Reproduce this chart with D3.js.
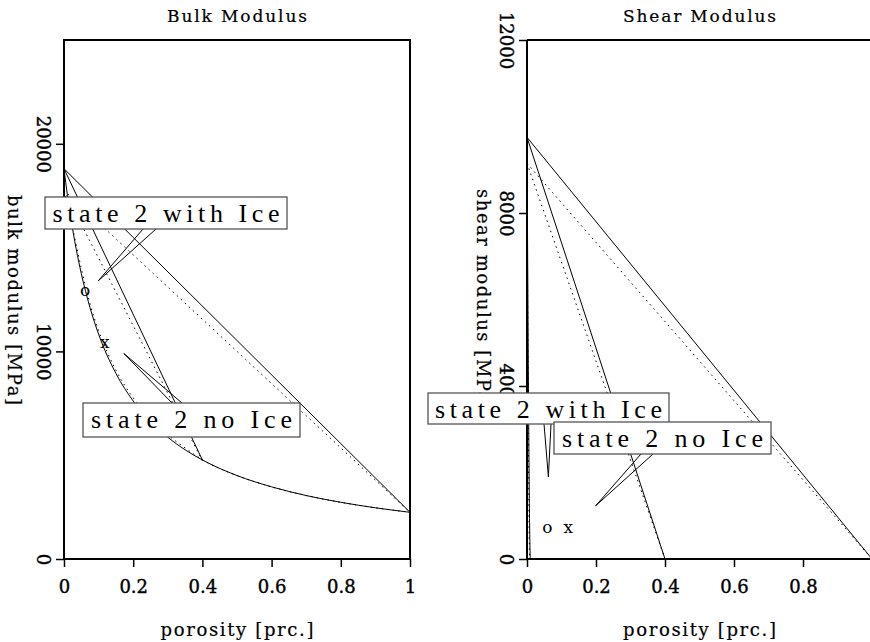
<!DOCTYPE html>
<html>
<head>
<meta charset="utf-8">
<script src="https://cdn.jsdelivr.net/npm/d3@7"></script>
<style>
  body { margin: 0; background: #fff; }
  svg { display: block; }
</style>
</head>
<body>
<svg id="chart" width="870" height="642"></svg>
<script>
// ---- data ----
var porosityTicks = [0, 0.2, 0.4, 0.6, 0.8, 1];
var bulkTicks = [0, 10000, 20000];
var shearTicks = [0, 4000, 8000, 12000];

// bulk modulus [MPa] vs porosity
var bulkVoigt = [[0, 18800], [1, 2250]];
var bulkVoigtIce = [[0, 17750], [1, 2250]];
var bulkCritical = [[0, 18800], [0.4, 4770]];
var bulkCriticalIce = [[0, 17750], [0.4, 4730]];
var bulkReuss = [[0, 18800], [0.01, 17510], [0.02, 16390], [0.035, 14950], [0.05, 13745],
	[0.075, 12115], [0.1, 10830], [0.15, 8940], [0.2, 7610], [0.25, 6620], [0.3, 5865],
	[0.35, 5260], [0.4, 4770], [0.5, 4020], [0.6, 3475], [0.7, 3057], [0.8, 2731],
	[0.9, 2467], [1, 2250]];
var bulkReussIce = [[0, 17750], [0.01, 17000], [0.02, 16300], [0.035, 15150], [0.05, 14000],
	[0.075, 12300], [0.1, 11000], [0.15, 9100], [0.2, 7760], [0.25, 6760], [0.3, 5980],
	[0.35, 5350], [0.4, 4780], [0.5, 4020], [0.6, 3475], [0.7, 3057], [0.8, 2731],
	[0.9, 2467], [1, 2250]];

// shear modulus [MPa] vs porosity
var shearVoigt = [[0, 9750], [1, 0]];
var shearVoigtIce = [[0, 9150], [1, 0]];
var shearCritical = [[0, 9750], [0.4, 0]];
var shearCriticalIce = [[0, 9150], [0.4, 0]];
var shearReuss = [[0, 9750], [0.01, 0], [1, 0]];
var shearReussIce = [[0, 9150], [0.008, 0], [1, 0]];

// o / x markers
var bulkMarks = [["o", 0.061, 12950], ["x", 0.118, 10450]];
var shearMarks = [["o", 0.059, 750], ["x", 0.12, 750]];

// callout labels: text and the point they refer to
var bulkNotes = [["state 2 with Ice", 0.099, 13400], ["state 2 no Ice", 0.173, 9900]];
var shearNotes = [["state 2 with Ice", 0.062, 1900], ["state 2 no Ice", 0.199, 1230]];

var svg = d3.select("#chart");
var FONT = "'DejaVu Serif', serif";
var BOXFONT = "'Liberation Serif', serif";

function Panel(opt) {
	var self = this;
	this.x = d3.scaleLinear().domain([0, 1]).range([opt.left, opt.left + opt.w]);
	this.y = d3.scaleLinear().domain([0, opt.ymax]).range([559, 40]);
	this.g = svg.append("g");

	var clipId = "clip" + opt.left;
	svg.append("clipPath").attr("id", clipId)
		.append("rect")
		.attr("x", opt.left).attr("y", 40)
		.attr("width", opt.w).attr("height", 519);

	var curves = this.g.append("g").attr("clip-path", "url(#" + clipId + ")");
	var line = d3.line()
		.x(function(d) { return self.x(d[0]); })
		.y(function(d) { return self.y(d[1]); })
		.curve(d3.curveMonotoneX);

	opt.solid.forEach(function(s) {
		curves.append("path")
			.attr("d", line(s))
			.attr("fill", "none")
			.attr("stroke", "#000")
			.attr("stroke-width", 1);
	});
	opt.dotted.forEach(function(s) {
		curves.append("path")
			.attr("d", line(s))
			.attr("fill", "none")
			.attr("stroke", "#000")
			.attr("stroke-width", 1)
			.attr("stroke-dasharray", "1.5,4");
	});

	// markers
	opt.marks.forEach(function(m) {
		self.g.append("text")
			.attr("x", self.x(m[1]))
			.attr("y", self.y(m[2]))
			.attr("dy", "0.35em")
			.attr("text-anchor", "middle")
			.attr("font-family", FONT)
			.attr("font-size", 17)
			.text(m[0]);
	});

	// x axis (only ticks that fall inside the page)
	var xt = porosityTicks.filter(function(t) { return self.x(t) < 868; });
	var xAxis = d3.axisBottom(this.x).tickValues(xt)
		.tickSize(8).tickFormat(d3.format("~g"));
	var xa = this.g.append("g").attr("transform", "translate(0,559)").call(xAxis);
	xa.select(".domain").remove();
	xa.selectAll(".tick line").attr("stroke", "#000").attr("stroke-width", 1.5);
	xa.selectAll(".tick text")
		.attr("font-family", FONT).attr("font-size", 18)
		.attr("fill", "#000").attr("stroke", "#000").attr("stroke-width", 0.4)
		.attr("dy", null).attr("y", 34);

	// y axis (labels rotated to read downwards)
	var yAxis = d3.axisLeft(this.y).tickValues(opt.yticks).tickSize(8).tickFormat(d3.format("d"));
	var ya = this.g.append("g").attr("transform", "translate(" + opt.left + ",0)").call(yAxis);
	ya.select(".domain").remove();
	ya.selectAll(".tick line").attr("stroke", "#000").attr("stroke-width", 1.5);
	ya.selectAll(".tick text")
		.attr("font-family", FONT).attr("font-size", 18)
		.attr("fill", "#000").attr("stroke", "#000").attr("stroke-width", 0.4)
		.attr("x", null).attr("dy", null)
		.attr("text-anchor", "middle")
		.attr("transform", "translate(-27,0) rotate(90)");

	// frame
	var fx0 = opt.left, fx1 = opt.left + opt.w;
	var frame = this.g.append("g").attr("stroke", "#000").attr("stroke-width", 2).attr("fill", "none");
	frame.append("path").attr("d",
		"M" + fx0 + ",40V559H" + Math.min(fx1, 870) +
		(opt.closed ? "V40Z" : "M" + fx0 + ",40H870"));

	// titles
	this.g.append("text")
		.attr("x", opt.left + opt.w / 2).attr("y", 22)
		.attr("text-anchor", "middle")
		.attr("font-family", FONT).attr("font-size", 17)
		.attr("stroke", "#000").attr("stroke-width", 0.2)
		.attr("textLength", opt.titleLen).attr("lengthAdjust", "spacing")
		.text(opt.title);
	this.g.append("text")
		.attr("x", opt.left + opt.w / 2).attr("y", 636)
		.attr("text-anchor", "middle")
		.attr("font-family", FONT).attr("font-size", 18)
		.attr("stroke", "#000").attr("stroke-width", 0.2)
		.attr("textLength", 153).attr("lengthAdjust", "spacing")
		.text("porosity [prc.]");
	this.g.append("text")
		.attr("transform", "translate(" + (opt.left - opt.ylabOff) + ",300) rotate(90)")
		.attr("text-anchor", "middle")
		.attr("font-family", FONT).attr("font-size", 18)
		.attr("stroke", "#000").attr("stroke-width", 0.2)
		.attr("textLength", opt.ylabLen).attr("lengthAdjust", "spacing")
		.text(opt.ylabel);

	// callouts
	opt.notes.forEach(function(n, i) {
		var b = opt.boxes[i];
		var tx = self.x(n[1]), ty = self.y(n[2]);
		var by = b.side === "top" ? b.y : b.y + b.h;
		self.g.append("path")
			.attr("d", "M" + b.b0 + "," + by + "L" + tx + "," + ty + "L" + b.b1 + "," + by)
			.attr("fill", "none").attr("stroke", "#000").attr("stroke-width", 1);
	});
	opt.notes.forEach(function(n, i) {
		var b = opt.boxes[i];
		self.g.append("rect")
			.attr("x", b.x).attr("y", b.y).attr("width", b.w).attr("height", b.h)
			.attr("fill", "#fff").attr("stroke", "#555").attr("stroke-width", 1.3);
		self.g.append("text")
			.attr("x", b.x + b.w / 2).attr("y", b.y + 25)
			.attr("text-anchor", "middle")
			.attr("font-family", BOXFONT).attr("font-size", 26)
			.attr("textLength", b.tl).attr("lengthAdjust", "spacing")
			.text(n[0]);
	});
}

new Panel({
	left: 64, w: 346, ymax: 25000, yticks: bulkTicks, closed: true,
	title: "Bulk Modulus", titleLen: 140,
	ylabel: "bulk modulus [MPa]", ylabLen: 210, ylabOff: 56,
	solid: [bulkVoigt, bulkCritical, bulkReuss],
	dotted: [bulkVoigtIce, bulkCriticalIce, bulkReussIce],
	marks: bulkMarks,
	notes: bulkNotes,
	boxes: [
		{x: 45, y: 197, w: 242, h: 32, tl: 227, side: "bottom", b0: 143, b1: 156},
		{x: 83, y: 403, w: 217, h: 34, tl: 201, side: "top", b0: 172, b1: 182}
	]
});

new Panel({
	left: 527, w: 345, ymax: 12000, yticks: shearTicks, closed: false,
	title: "Shear Modulus", titleLen: 153,
	ylabel: "shear modulus [MPa]", ylabLen: 222, ylabOff: 50,
	solid: [shearVoigt, shearCritical, shearReuss],
	dotted: [shearVoigtIce, shearCriticalIce, shearReussIce],
	marks: shearMarks,
	notes: shearNotes,
	boxes: [
		{x: 428, y: 393, w: 241, h: 31, tl: 227, side: "bottom", b0: 544, b1: 551},
		{x: 554, y: 422, w: 217, h: 32, tl: 201, side: "bottom", b0: 641, b1: 653}
	]
});
</script>
</body>
</html>
